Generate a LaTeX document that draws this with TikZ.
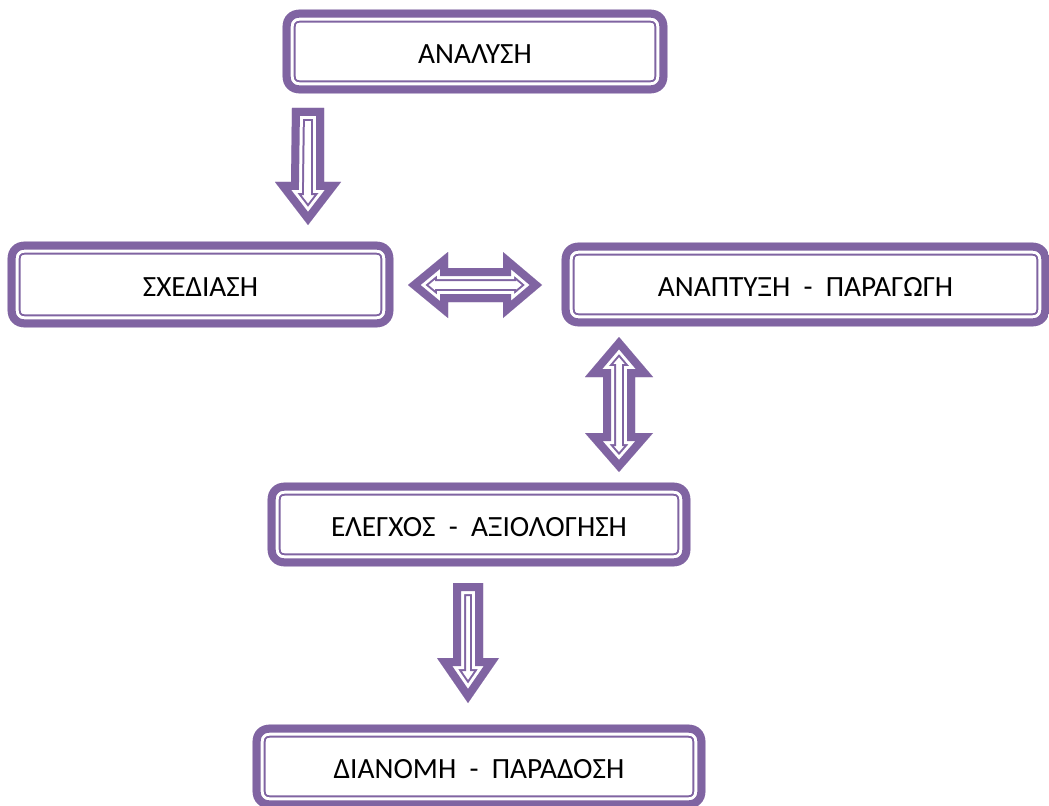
\documentclass[tikz,border=0pt]{standalone}
\usepackage{fontspec}
\setmainfont{Carlito}
\usetikzlibrary{calc,backgrounds}
\definecolor{framecol}{RGB}{128,100,162}
\newcommand{\stagefont}{\fontsize{22}{26}\selectfont}
% purple band, white gap, thin purple line, white inside
\newcommand{\layered}[1]{%
  \begin{scope}
    \clip #1;
    \fill[white] #1;
    \draw[framecol,line width=19.5pt,line join=miter] #1;
    \draw[white,line width=16.5pt,line join=miter] #1;
    \draw[framecol,line width=12pt,line join=miter] #1;
  \end{scope}}
\tikzset{
  stagebox/.style={minimum width=#1,minimum height=62.25pt,inner sep=0pt,
    text height=18pt,text depth=0pt,font=\stagefont}
}
\begin{document}
\begin{tikzpicture}[x=0.75pt,y=-0.75pt]
\useasboundingbox (0,0) rectangle (1049,806);
% stages
\node[stagebox=288pt] (analysis) at (475,51.5) {ΑΝΑΛΥΣΗ};
\node[stagebox=288.75pt,minimum height=63.75pt] (design) at (200.5,284.5) {ΣΧΕΔΙΑΣΗ};
\node[stagebox=365.25pt] (develop) at (805.5,284.5) {ΑΝΑΠΤΥΞΗ~~-~~ΠΑΡΑΓΩΓΗ};
\node[stagebox=316.5pt] (testing) at (479,524.5) {ΕΛΕΓΧΟΣ~~-~~ΑΞΙΟΛΟΓΗΣΗ};
\node[stagebox=339pt] (delivery) at (479,766.5) {ΔΙΑΝΟΜΗ~~-~~ΠΑΡΑΔΟΣΗ};
\begin{scope}[on background layer]
\foreach \n in {analysis,design,develop,testing,delivery}
  \layered{[rounded corners=12pt] (\n.north west) rectangle (\n.south east)};
\end{scope}
% arrow ends
\coordinate (a1s) at (308,108);
\coordinate (a1e) at (308,225);
\coordinate (a2l) at (408,285);
\coordinate (a2r) at (542,285);
\coordinate (a3t) at (619,337);
\coordinate (a3b) at (619,472);
\coordinate (a4s) at (468,583);
\coordinate (a4e) at (468,703);
% analysis -> design
\layered{($(a1s)+(-16,0)$) -- ++(32,0) -- ++(0,74) -- ++(17,0) -- (a1e) -- ++(-33,-43) -- ++(16,0) -- cycle}
% design <-> develop
\layered{(a2l) -- ++(40,-33) -- ++(0,16) -- ++(55,0) -- ++(0,-16) -- (a2r) -- ++(-39,33) -- ++(0,-16) -- ++(-55,0) -- ++(0,16) -- cycle}
% develop <-> testing
\layered{(a3t) -- ++(34,40) -- ++(-18,0) -- ++(0,56) -- ++(18,0) -- (a3b) -- ++(-34,-39) -- ++(18,0) -- ++(0,-56) -- ++(-18,0) -- cycle}
% testing -> delivery
\layered{($(a4s)+(-15,0)$) -- ++(30,0) -- ++(0,75) -- ++(16,0) -- (a4e) -- ++(-31,-45) -- ++(16,0) -- cycle}
\end{tikzpicture}
\end{document}
